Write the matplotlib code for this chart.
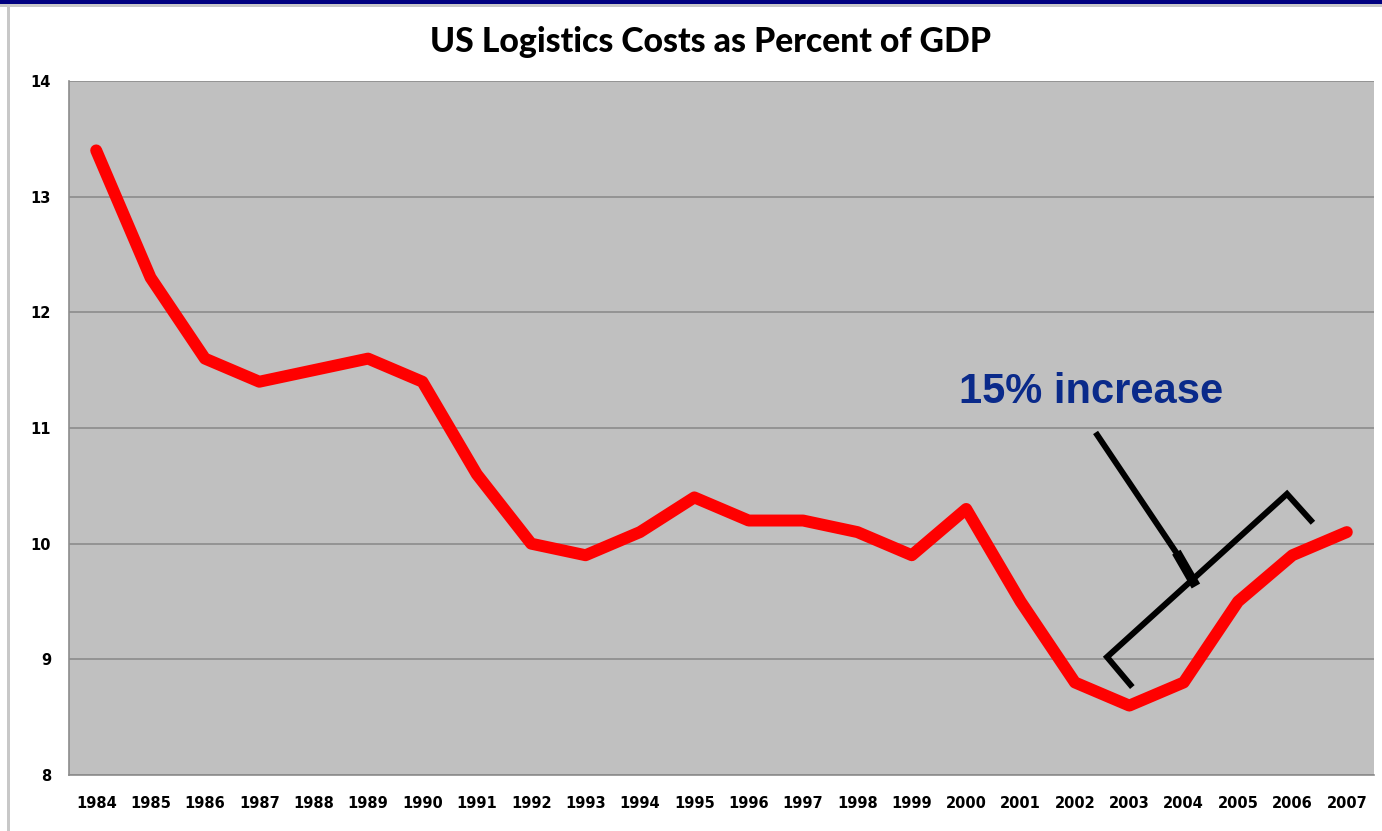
import matplotlib
matplotlib.use("Agg")
import matplotlib.pyplot as plt
from matplotlib.patches import Rectangle

# US logistics costs as a share of GDP, 1984-2007
years = [str(y) for y in range(1984, 2008)]
pct_gdp = [13.4, 12.3, 11.6, 11.4, 11.5, 11.6, 11.4, 10.6, 10.0, 9.9, 10.1, 10.4,
           10.2, 10.2, 10.1, 9.9, 10.3, 9.5, 8.8, 8.6, 8.8, 9.5, 9.9, 10.1]
y_ticks = [8, 9, 10, 11, 12, 13, 14]

# Bracket marking the rise from the 2003 low, plus its pointer
bracket_x = [19.02, 18.59, 21.90, 22.34]
bracket_y = [8.78, 9.02, 10.43, 10.20]
pointer_x = [18.41, 19.91, 20.18]
pointer_y = [10.94, 9.89, 9.67]

fig = plt.figure(figsize=(13.82, 8.31), dpi=100)
fig.patch.set_facecolor("white")

# frame decorations
fig.patches.append(Rectangle((0, 1 - 4 / 831), 1, 4 / 831, transform=fig.transFigure,
                             facecolor="#000080", edgecolor="none"))
fig.patches.append(Rectangle((0, 1 - 7 / 831), 1, 3 / 831, transform=fig.transFigure,
                             facecolor="#C8C8C8", edgecolor="none"))
fig.patches.append(Rectangle((7 / 1382, 0), 3 / 1382, 1 - 7 / 831, transform=fig.transFigure,
                             facecolor="#C8C8C8", edgecolor="none"))

ax = fig.add_axes([69 / 1382, 1 - 775 / 831, 1305 / 1382, 694 / 831])
ax.set_facecolor("#C0C0C0")

x = list(range(len(years)))
ax.plot(x, pct_gdp, color="#FF0000", linewidth=8.6, solid_capstyle="round",
        solid_joinstyle="round", zorder=3)

ax.plot(bracket_x, bracket_y, color="black", linewidth=4.3, solid_joinstyle="miter", zorder=4)
ax.plot(pointer_x, pointer_y, color="black", linewidth=4.3, zorder=4)
ax.plot(pointer_x[1:], pointer_y[1:], color="black", linewidth=7, zorder=4)

ax.text(18.3, 11.31, "15% increase", color="#0A2A8A", fontsize=30, fontweight="bold",
        family="Liberation Sans", ha="center", va="center", zorder=5)

ax.set_xlim(-0.5, len(years) - 0.5)
ax.set_ylim(8, 14)
ax.set_yticks(y_ticks)
ax.set_xticks(x)
ax.set_xticklabels(years)
ax.yaxis.grid(True, color="#8C8C8C", linewidth=1.2)
ax.set_axisbelow(True)
ax.tick_params(axis="x", length=0, labelsize=10.5, pad=15)
ax.tick_params(axis="y", length=0, labelsize=10.5, pad=13)
for lab in ax.get_xticklabels() + ax.get_yticklabels():
    lab.set_fontweight("bold")
    lab.set_family("DejaVu Sans")
for side in ["left", "bottom"]:
    ax.spines[side].set_color("#8C8C8C")
    ax.spines[side].set_linewidth(1.2)
ax.spines["right"].set_visible(False)
ax.spines["top"].set_visible(False)

fig.text(710 / 1382, 1 - 42 / 831, "US Logistics Costs as Percent of GDP",
         fontsize=24.3, fontweight=900, family=["Lato", "DejaVu Sans"],
         ha="center", va="center")

fig.savefig("out.png", dpi=100, facecolor="white")
